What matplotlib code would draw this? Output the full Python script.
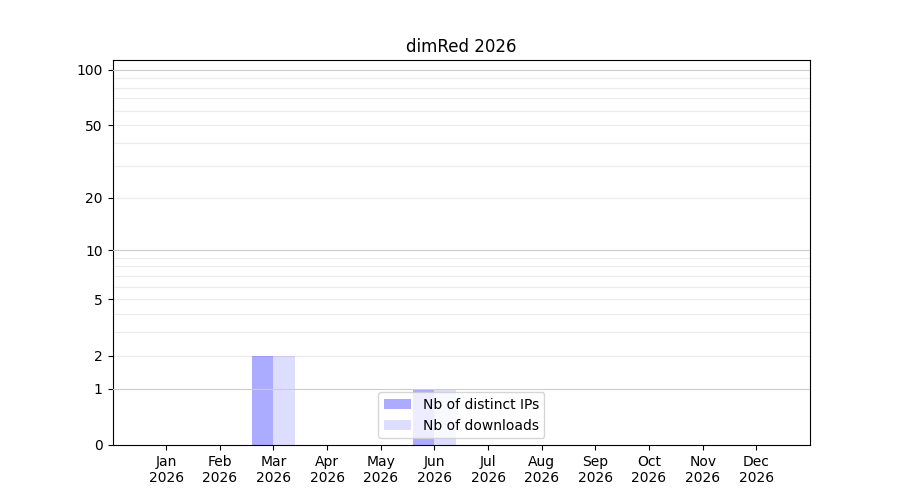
import matplotlib
matplotlib.use("Agg")
import matplotlib.pyplot as plt
import numpy as np

# Monthly download stats for dimRed, 2026
months = ["Jan", "Feb", "Mar", "Apr", "May", "Jun",
          "Jul", "Aug", "Sep", "Oct", "Nov", "Dec"]
year = "2026"
distinct_ips = [0, 0, 2, 0, 0, 1, 0, 0, 0, 0, 0, 0]
downloads = [0, 0, 2, 0, 0, 1, 0, 0, 0, 0, 0, 0]

ytick_values = [0, 1, 2, 5, 10, 20, 50, 100]
major_grid = [1, 10, 100]
minor_grid = [2, 3, 4, 5, 6, 7, 8, 9, 20, 30, 40, 50, 60, 70, 80, 90]


def fwd(y):
    return np.log10(1 + np.asarray(y, dtype=float))


def inv(y):
    return 10 ** np.asarray(y, dtype=float) - 1


fig, ax = plt.subplots(figsize=(9, 5), dpi=100)

x = np.arange(1, len(months) + 1)
w = 0.4
ax.bar(x - w / 2, distinct_ips, width=w, color="blue", alpha=0.33,
       label="Nb of distinct IPs", zorder=2)
ax.bar(x + w / 2, downloads, width=w, color="blue", alpha=0.135,
       label="Nb of downloads", zorder=2)

ax.set_yscale("function", functions=(fwd, inv))
ax.set_ylim(0, 113)
ax.set_xlim(0, 13)

# gridlines
for v in minor_grid:
    ax.axhline(v, color="#ebebeb", lw=0.8, zorder=1)
for v in major_grid:
    ax.axhline(v, color="#cccccc", lw=0.8, zorder=3)

ax.set_yticks(ytick_values)
ax.set_yticklabels([str(v) for v in ytick_values])
ax.yaxis.set_minor_locator(matplotlib.ticker.NullLocator())
ax.set_xticks(x)
ax.set_xticklabels([m + "\n" + year for m in months])

ax.set_title("dimRed " + year)
ax.legend(loc="lower center")

fig.savefig("out.png")
